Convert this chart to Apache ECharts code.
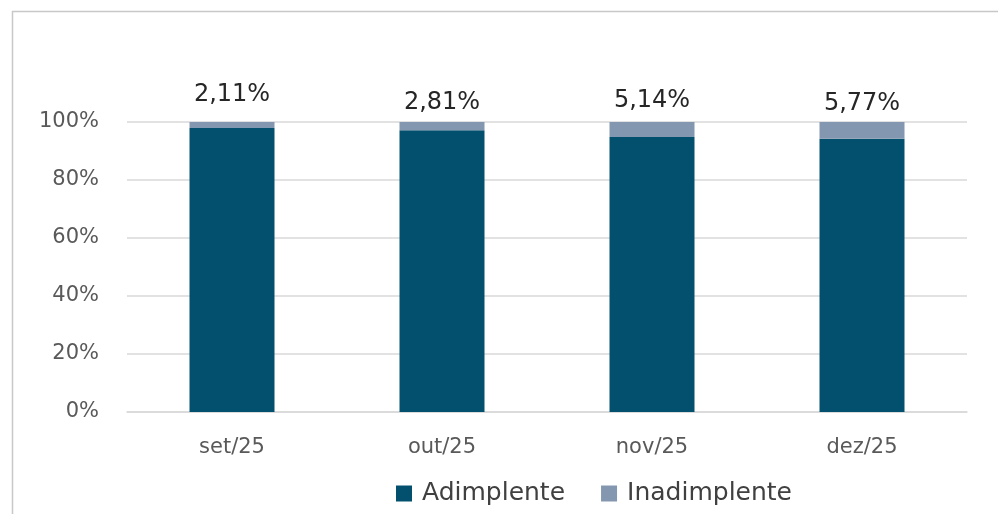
<!DOCTYPE html>
<html>
<head>
<meta charset="utf-8">
<script src="https://cdn.jsdelivr.net/npm/echarts@6/dist/echarts.min.js"></script>
<style>
  html, body { margin: 0; padding: 0; background: #fff; }
  #chart { width: 998px; height: 514px; }
</style>
</head>
<body>
<div id="chart"></div>
<script>
// meses e percentuais (leitura do gráfico)
var categorias = ['set/25', 'out/25', 'nov/25', 'dez/25'];
var adimplente = [97.89, 97.19, 94.86, 94.23];
var inadimplente = [2.11, 2.81, 5.14, 5.77];
var rotulos = ['2,11%', '2,81%', '5,14%', '5,77%'];
var yTicks = [0, 20, 40, 60, 80, 100];

// deslocamento vertical dos rótulos, como no original
var labelShift = [-5, 3, 1, 4];

var chart = echarts.init(document.getElementById('chart'));

var option = {
    animation: false,
    textStyle: { fontFamily: '"DejaVu Sans", sans-serif' },
    graphic: [{
        type: 'rect',
        left: 10, top: 9,
        shape: { width: 1000, height: 520 },
        style: { fill: 'none', stroke: '#c8c8c8', lineWidth: 1.5 },
        silent: true
    }],
    grid: { left: 127, right: 31, top: 122, bottom: 102 },
    legend: {
        top: 476,
        left: 391,
        itemWidth: 16, itemHeight: 16, itemGap: 36,
        icon: 'rect',
        textStyle: { fontSize: 25, color: '#404040', padding: [0, 0, 0, 5] },
        data: ['Adimplente', 'Inadimplente']
    },
    xAxis: {
        type: 'category',
        data: categorias,
        axisLine: { lineStyle: { color: '#d9d9d9', width: 1.5 } },
        axisTick: { show: false },
        axisLabel: { color: '#595959', fontSize: 21, margin: 25 }
    },
    yAxis: {
        type: 'value',
        min: 0, max: 100, interval: 20,
        axisLine: { show: false },
        axisTick: { show: false },
        axisLabel: { color: '#595959', fontSize: 21, margin: 28,
            formatter: function (v) { return yTicks.indexOf(v) >= 0 ? v + '%' : ''; } },
        splitLine: { lineStyle: { color: '#d9d9d9', width: 1.5 } }
    },
    series: [
        {
            name: 'Adimplente',
            type: 'bar',
            stack: 'total',
            barWidth: 85,
            itemStyle: { color: '#03506e' },
            data: adimplente
        },
        {
            name: 'Inadimplente',
            type: 'bar',
            stack: 'total',
            barWidth: 85,
            itemStyle: { color: '#8497b0' },
            data: inadimplente.map(function (v, i) {
                return {
                    value: v,
                    label: {
                        show: true,
                        position: 'top',
                        distance: 10,
                        offset: [0, labelShift[i]],
                        formatter: rotulos[i],
                        fontSize: 24,
                        color: '#262626'
                    }
                };
            })
        }
    ]
};

chart.setOption(option);
</script>
</body>
</html>
